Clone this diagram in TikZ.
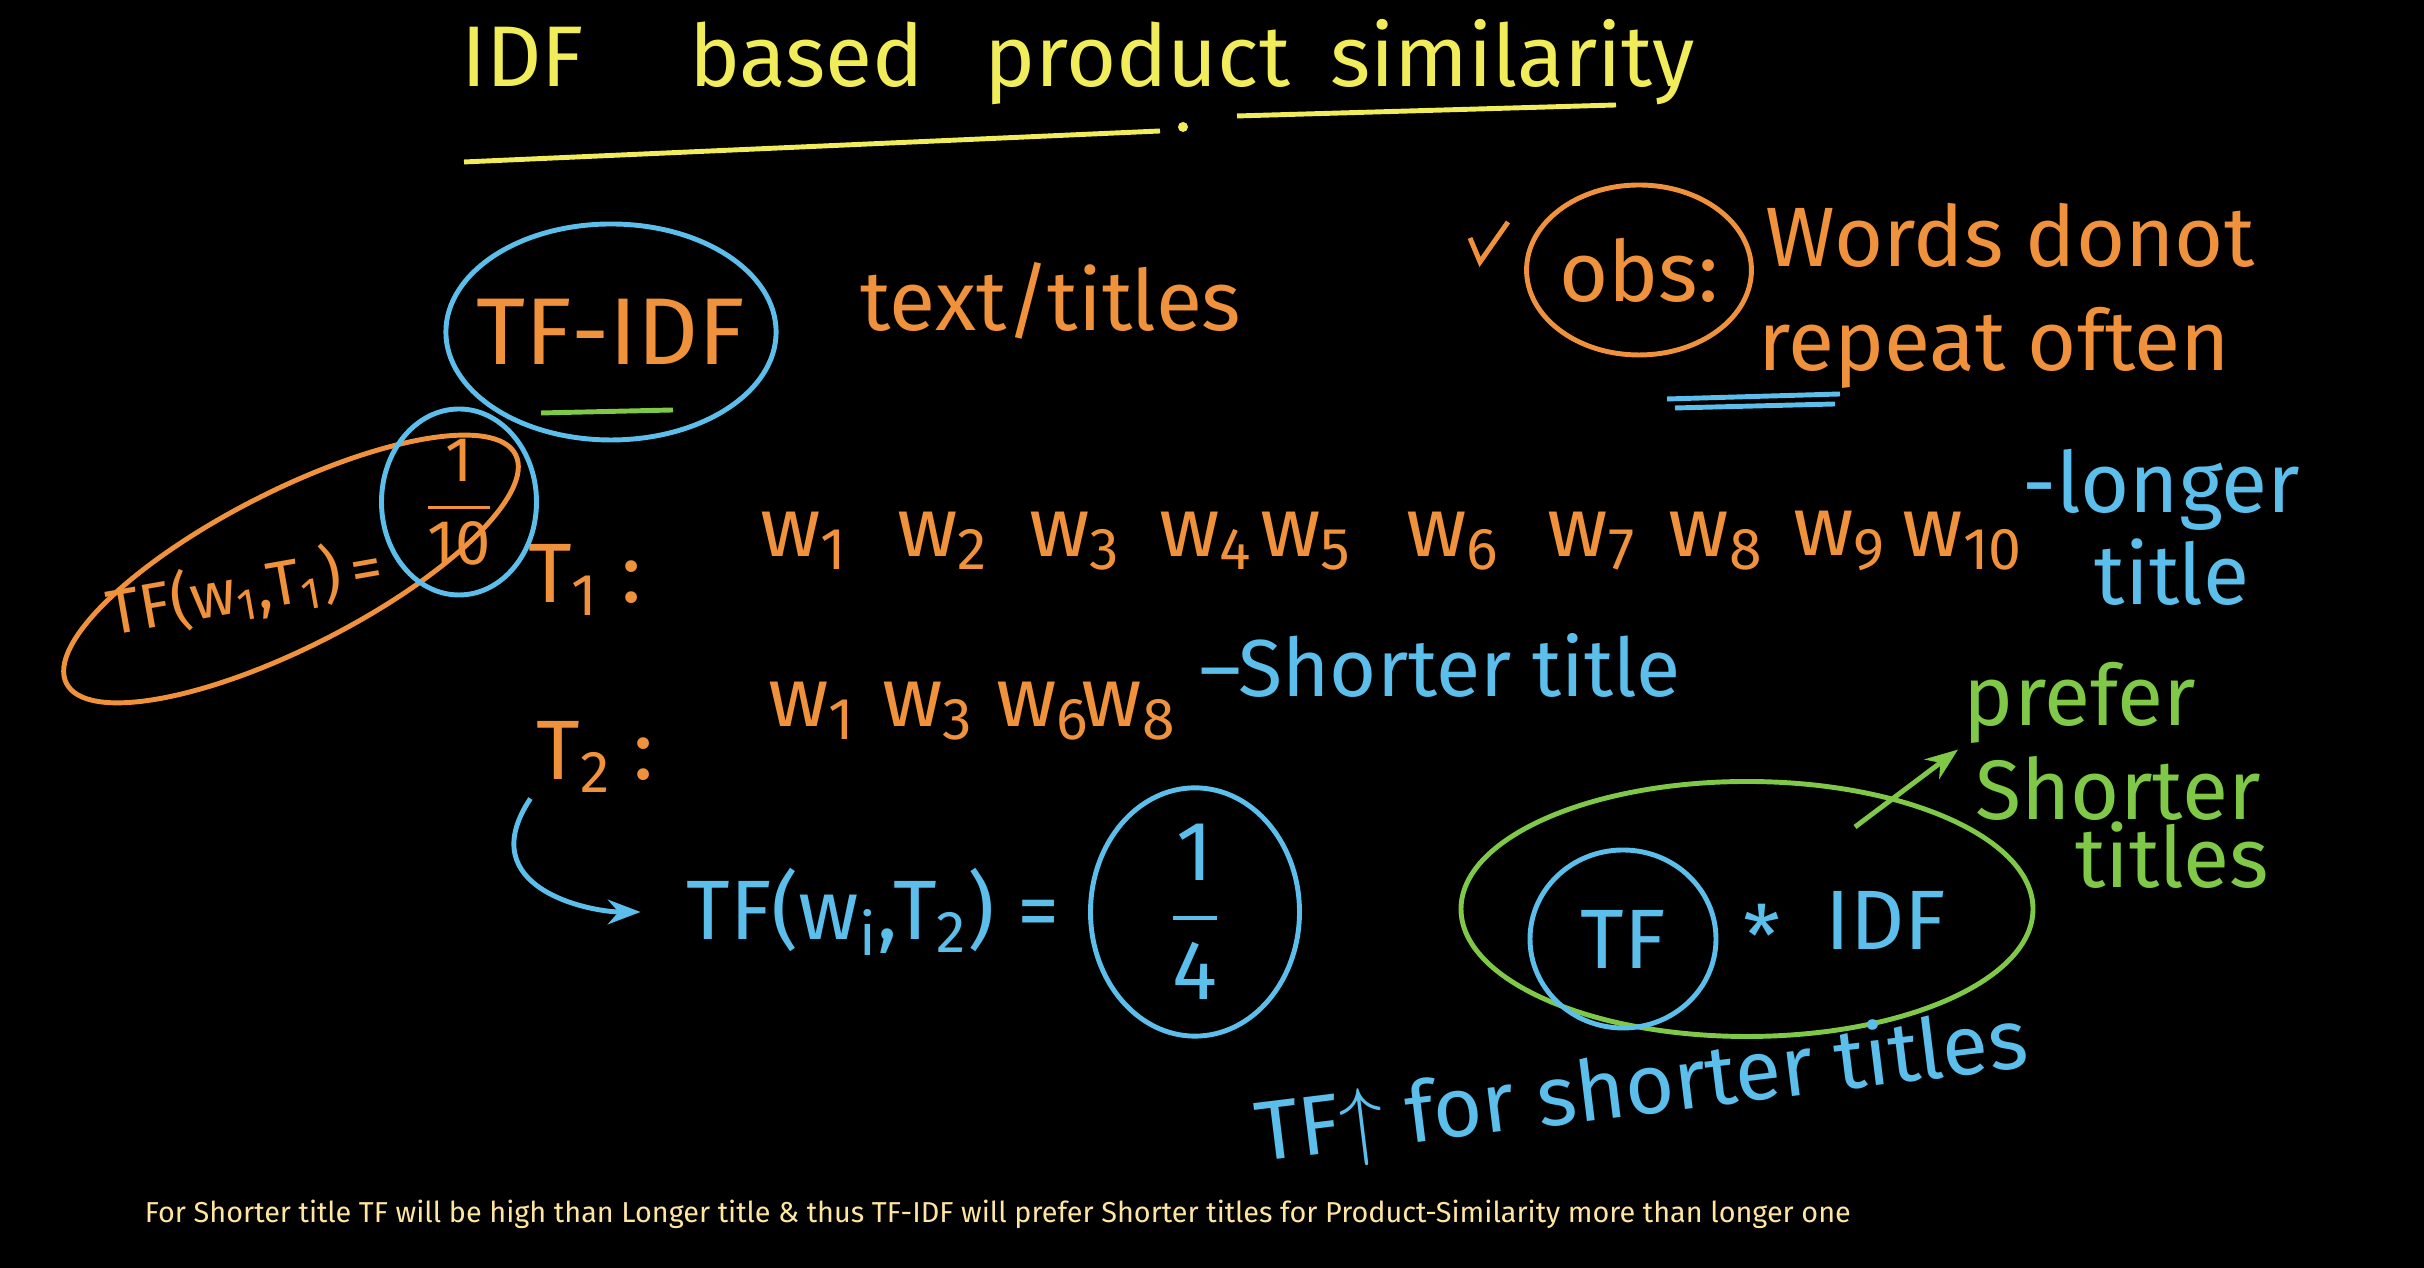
\documentclass[tikz,border=0pt]{standalone}
\usepackage{amsmath}
\usepackage{fontspec}
\setmainfont{Fira Sans}
\usepackage{tikz}
\usetikzlibrary{positioning, arrows.meta, shapes.geometric}
\usepackage{xcolor}
\definecolor{chalkYellow}{RGB}{240, 236, 90}
\definecolor{chalkOrange}{RGB}{240, 146, 60}
\definecolor{chalkBlue}{RGB}{92, 190, 235}
\definecolor{chalkGreen}{RGB}{128, 200, 72}
\definecolor{captionText}{RGB}{255, 230, 160}

\begin{document}
\begin{tikzpicture}[
  every node/.style={inner sep=1pt},
  hand/.style={font=\fontsize{24}{28}\selectfont},
  small hand/.style={font=\fontsize{18}{21}\selectfont},
  ring/.style={ellipse, draw, line width=1.4pt, inner sep=0pt},
  line width=1.4pt,
  >=Stealth
]
  \fill[black] (0,0) rectangle (24.24,12.68);
  \useasboundingbox (0,0) rectangle (24.24,12.68);

  % Title (yellow)
  \node[chalkYellow, font=\fontsize{24.5}{30}\selectfont] (title) at (10.78,12.06) {IDF\hspace{1.05cm}based\hspace{0.6cm}product\hspace{0.4cm}similarity};
  \draw[chalkYellow] (4.64,11.06) -- (11.60,11.37);
  \fill[chalkYellow] (11.83,11.41) circle (0.05);
  \draw[chalkYellow] (12.37,11.52) -- (16.16,11.63);

  % TF-IDF and the observation
  \node[ring, draw=chalkBlue, text=chalkOrange, font=\fontsize{27}{32}\selectfont, inner xsep=-5pt, minimum width=3.24cm, minimum height=2.16cm] (tfidf) at (6.11,9.36) {TF-IDF};
  \draw[chalkGreen] (5.41,8.55) -- (6.73,8.58);
  \node[hand, chalkOrange] (titles) at (10.51,9.67) {text/titles};
  \draw[chalkOrange] (14.70,10.30) -- (14.80,10.06) -- (15.08,10.46);
  \node[ring, hand, draw=chalkOrange, text=chalkOrange, minimum width=2.16cm, minimum height=1.70cm] (obs) at (16.39,9.98) {obs:};
  \node[hand, chalkOrange] (donot) at (20.10,10.33) {Words donot};
  \node[hand, chalkOrange] (often) at (19.94,9.20) {repeat often};
  \draw[chalkBlue] (16.67,8.69) -- (18.40,8.74);
  \draw[chalkBlue] (16.75,8.60) -- (18.35,8.64);

  % T1 row
  \node[hand, chalkOrange] (t1) at (5.85,6.88) {T\textsubscript{1} :};
  \foreach \i/\x in {1/8.04, 2/9.43, 3/10.75, 4/12.06, 5/13.06, 6/14.53, 7/15.92, 8/17.16, 9/18.40, 10/19.63}
    \node[hand, chalkOrange] (w\i) at (\x,7.27) {w\textsubscript{\i}};
  \node[hand, chalkBlue] (longer) at (21.61,7.78) {-longer};
  \node[hand, chalkBlue] (longtitle) at (21.72,6.96) {title};

  % TF of T1 (orange loop)
  \node[ellipse, draw=chalkOrange, minimum width=5.04cm, minimum height=1.56cm, rotate=27] (tfbox) at (2.91,6.99) {};
  \node[small hand, chalkOrange, rotate=10] (tf1) at (2.45,6.78) {TF(w\textsubscript{1},T\textsubscript{1})\,=};
  \node[ring, small hand, draw=chalkBlue, text=chalkOrange, minimum width=1.55cm, minimum height=1.86cm] (frac1) at (4.59,7.66) {$\dfrac{\text{1}}{\text{10}}$};

  % T2 row
  \node[hand, chalkOrange] (t2) at (5.95,5.11) {T\textsubscript{2} :};
  \foreach \i/\x in {1/8.12, 3/9.28, 6/10.43, 8/11.29}
    \node[hand, chalkOrange] (v\i) at (\x,5.57) {w\textsubscript{\i}};
  \node[hand, chalkBlue, font=\fontsize{23}{27}\selectfont] (shorter) at (14.40,6.03) {--Shorter title};

  % TF of T2 (blue)
  \node[hand, chalkBlue] (tf2) at (8.73,3.56) {TF(w\textsubscript{i},T\textsubscript{2}) =};
  \draw[->, chalkBlue] (t2.south west) .. controls +(-0.6,-0.9) and +(-0.5,0) .. ([xshift=-4mm]tf2.west);
  \node[ring, hand, draw=chalkBlue, text=chalkBlue, minimum width=2.09cm, minimum height=2.32cm] (frac2) at (11.95,3.56) {$\dfrac{\text{1}}{\text{4}}$};

  % TF * IDF (green loop)
  \node[ring, draw=chalkGreen, minimum width=5.72cm, minimum height=2.55cm] (prefbox) at (17.47,3.59) {};
  \node[ring, hand, draw=chalkBlue, text=chalkBlue, minimum width=1.86cm, minimum height=1.78cm] (tfring) at (16.23,3.29) {TF};
  \node[hand, chalkBlue] (star) at (17.62,3.33) {*};
  \node[hand, chalkBlue] (idf) at (18.86,3.48) {IDF};
  \node[hand, chalkGreen] (prefer) at (20.80,5.65) {prefer};
  \node[hand, chalkGreen] (pshort) at (21.18,4.80) {Shorter};
  \node[hand, chalkGreen] (ptitles) at (21.72,4.13) {titles};
  \draw[->, chalkGreen] ([shift={(1.08,0.82)}]prefbox.center) -- (prefer.south west);
  \node[hand, chalkBlue, rotate=7] (tfup) at (16.42,1.78) {TF$\uparrow$ for shorter titles};

  % caption
  \node[anchor=west, captionText, font=\fontsize{8.2}{10}\selectfont] (caption) at (1.39,0.54) {For Shorter title TF will be high than Longer title \& thus TF-IDF will prefer Shorter titles for Product-Similarity more than longer one};
\end{tikzpicture}
\end{document}
